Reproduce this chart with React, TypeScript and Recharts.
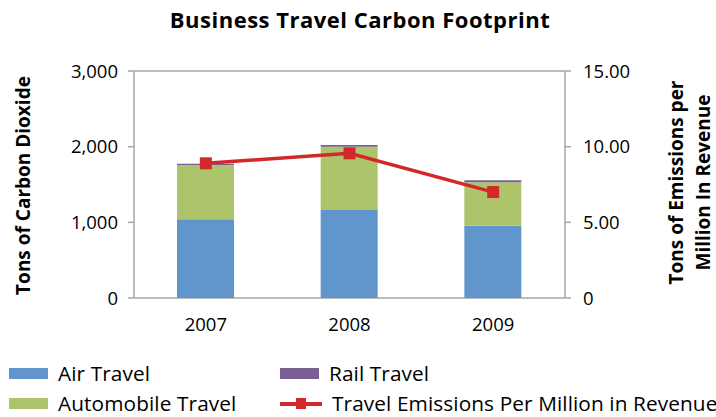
import React from "react";
import {
  ComposedChart,
  Bar,
  Line,
  XAxis,
  YAxis,
  CartesianGrid,
  Label,
} from "recharts";

const years = ["2007", "2008", "2009"];
const airTravel = [1040, 1163, 955];
const autoTravel = [718, 837, 574];
const railTravel = [17, 22, 26];
const emissionsPerMillion = [8.9, 9.56, 7.0];

const leftTicks = [0, 1000, 2000, 3000];
const rightTicks = [0, 5, 10, 15];
const boundaryTicks = [0, 1, 2, 3];

const FONT = "'Open Sans', Lato, sans-serif";
const AIR = "#6096CB";
const AUTO = "#ACC56B";
const RAIL = "#7A5F93";
const RED = "#D3282A";
const GRID = "#A6A6A6";

const data = years.map((year, i) => ({
  year,
  air: airTravel[i],
  auto: autoTravel[i],
  rail: railTravel[i],
  perMillion: emissionsPerMillion[i],
}));

const legendItems = [
  { name: "Air Travel", color: AIR, kind: "bar", left: 9, top: 363 },
  { name: "Rail Travel", color: RAIL, kind: "bar", left: 280, top: 363 },
  { name: "Automobile Travel", color: AUTO, kind: "bar", left: 9, top: 393 },
  { name: "Travel Emissions Per Million in Revenue", color: RED, kind: "line", left: 280, top: 393 },
];

if (typeof document !== "undefined") document.body.style.margin = "0";

function SquareDot(props: any) {
  const { cx, cy } = props;
  if (cx == null || cy == null) return null;
  return <rect x={cx - 6} y={cy - 6} width={12} height={12} fill={RED} />;
}

function LeftLabel(props: any) {
  const vb = props.viewBox || {};
  const cy = vb.y + vb.height / 2 + 1;
  const x = 23;
  return (
    <text
      x={x}
      y={cy}
      textAnchor="middle"
      dominantBaseline="central"
      transform={`rotate(-90 ${x} ${cy})`}
      fontFamily={FONT}
      fontWeight="bold"
      fontSize={19}
      fill="#000"
    >
      Tons of Carbon Dioxide
    </text>
  );
}

function RightLabel(props: any) {
  const vb = props.viewBox || {};
  const cy = vb.y + vb.height / 2 - 2;
  const x1 = 676;
  const x2 = 703;
  return (
    <g fontFamily={FONT} fontWeight="bold" fontSize={19} fill="#000">
      <text x={x1} y={cy} textAnchor="middle" dominantBaseline="central" transform={`rotate(-90 ${x1} ${cy})`}>
        Tons of Emissions per
      </text>
      <text x={x2} y={cy} textAnchor="middle" dominantBaseline="central" transform={`rotate(-90 ${x2} ${cy})`}>
        Million In Revenue
      </text>
    </g>
  );
}

export default function App() {
  const tick = { fill: "#000", fontSize: 18.5, fontFamily: FONT };
  const axisStroke = { stroke: GRID, strokeWidth: 1.5 };
  return (
    <div style={{ position: "relative", width: 716, height: 417, background: "#fff", fontFamily: FONT }}>
      <div
        style={{
          position: "absolute",
          top: 9,
          left: 0,
          width: 720,
          textAlign: "center",
          fontWeight: "bold",
          fontSize: 22,
          letterSpacing: 0.5,
          lineHeight: "20px",
          color: "#000",
        }}
      >
        Business Travel Carbon Footprint
      </div>
      <ComposedChart
        width={716}
        height={417}
        data={data}
        margin={{ top: 71, right: 91, bottom: 89, left: 74 }}
      >
        <CartesianGrid horizontal vertical={false} stroke={GRID} strokeWidth={1.5} />
        <XAxis
          xAxisId="bounds"
          type="number"
          domain={[0, 3]}
          ticks={boundaryTicks}
          height={0}
          tick={false}
          axisLine={axisStroke}
          tickLine={axisStroke}
          tickSize={6}
        />
        <XAxis
          dataKey="year"
          height={30}
          tick={tick}
          tickLine={false}
          axisLine={false}
          tickMargin={14}
        />
        <YAxis
          yAxisId="left"
          width={60}
          domain={[0, 3000]}
          ticks={leftTicks}
          tick={tick}
          tickFormatter={(v: number) => v.toLocaleString("en-US")}
          axisLine={axisStroke}
          tickLine={axisStroke}
          tickSize={6}
          tickMargin={10}
        >
          <Label content={<LeftLabel />} />
        </YAxis>
        <YAxis
          yAxisId="right"
          orientation="right"
          width={60}
          domain={[0, 15]}
          ticks={rightTicks}
          tick={{ ...tick, textAnchor: "start" }}
          tickFormatter={(v: number) => (v === 0 ? "0" : v.toFixed(2))}
          axisLine={axisStroke}
          tickLine={axisStroke}
          tickSize={6}
          tickMargin={12}
        >
          <Label content={<RightLabel />} />
        </YAxis>
        <Bar yAxisId="left" dataKey="air" stackId="a" fill={AIR} barSize={57} isAnimationActive={false} />
        <Bar yAxisId="left" dataKey="auto" stackId="a" fill={AUTO} barSize={57} isAnimationActive={false} />
        <Bar yAxisId="left" dataKey="rail" stackId="a" fill={RAIL} barSize={57} isAnimationActive={false} />
        <Line
          yAxisId="right"
          dataKey="perMillion"
          stroke={RED}
          strokeWidth={3.5}
          dot={<SquareDot />}
          activeDot={false}
          isAnimationActive={false}
        />
      </ComposedChart>
      {legendItems.map((item) => (
        <div
          key={item.name}
          style={{
            position: "absolute",
            left: item.left,
            top: item.top,
            display: "flex",
            alignItems: "center",
            fontSize: 20.8,
            letterSpacing: 0.1,
            lineHeight: "20px",
            color: "#000",
            whiteSpace: "nowrap",
          }}
        >
          {item.kind === "bar" ? (
            <span style={{ display: "inline-block", width: 39, height: 11, background: item.color }} />
          ) : (
            <span style={{ position: "relative", display: "inline-block", width: 42, height: 11 }}>
              <span style={{ position: "absolute", left: 0, top: 4, width: 42, height: 4, background: item.color }} />
              <span style={{ position: "absolute", left: 16, top: 0, width: 10, height: 11, background: item.color }} />
            </span>
          )}
          <span style={{ marginLeft: 10 }}>{item.name}</span>
        </div>
      ))}
    </div>
  );
}
